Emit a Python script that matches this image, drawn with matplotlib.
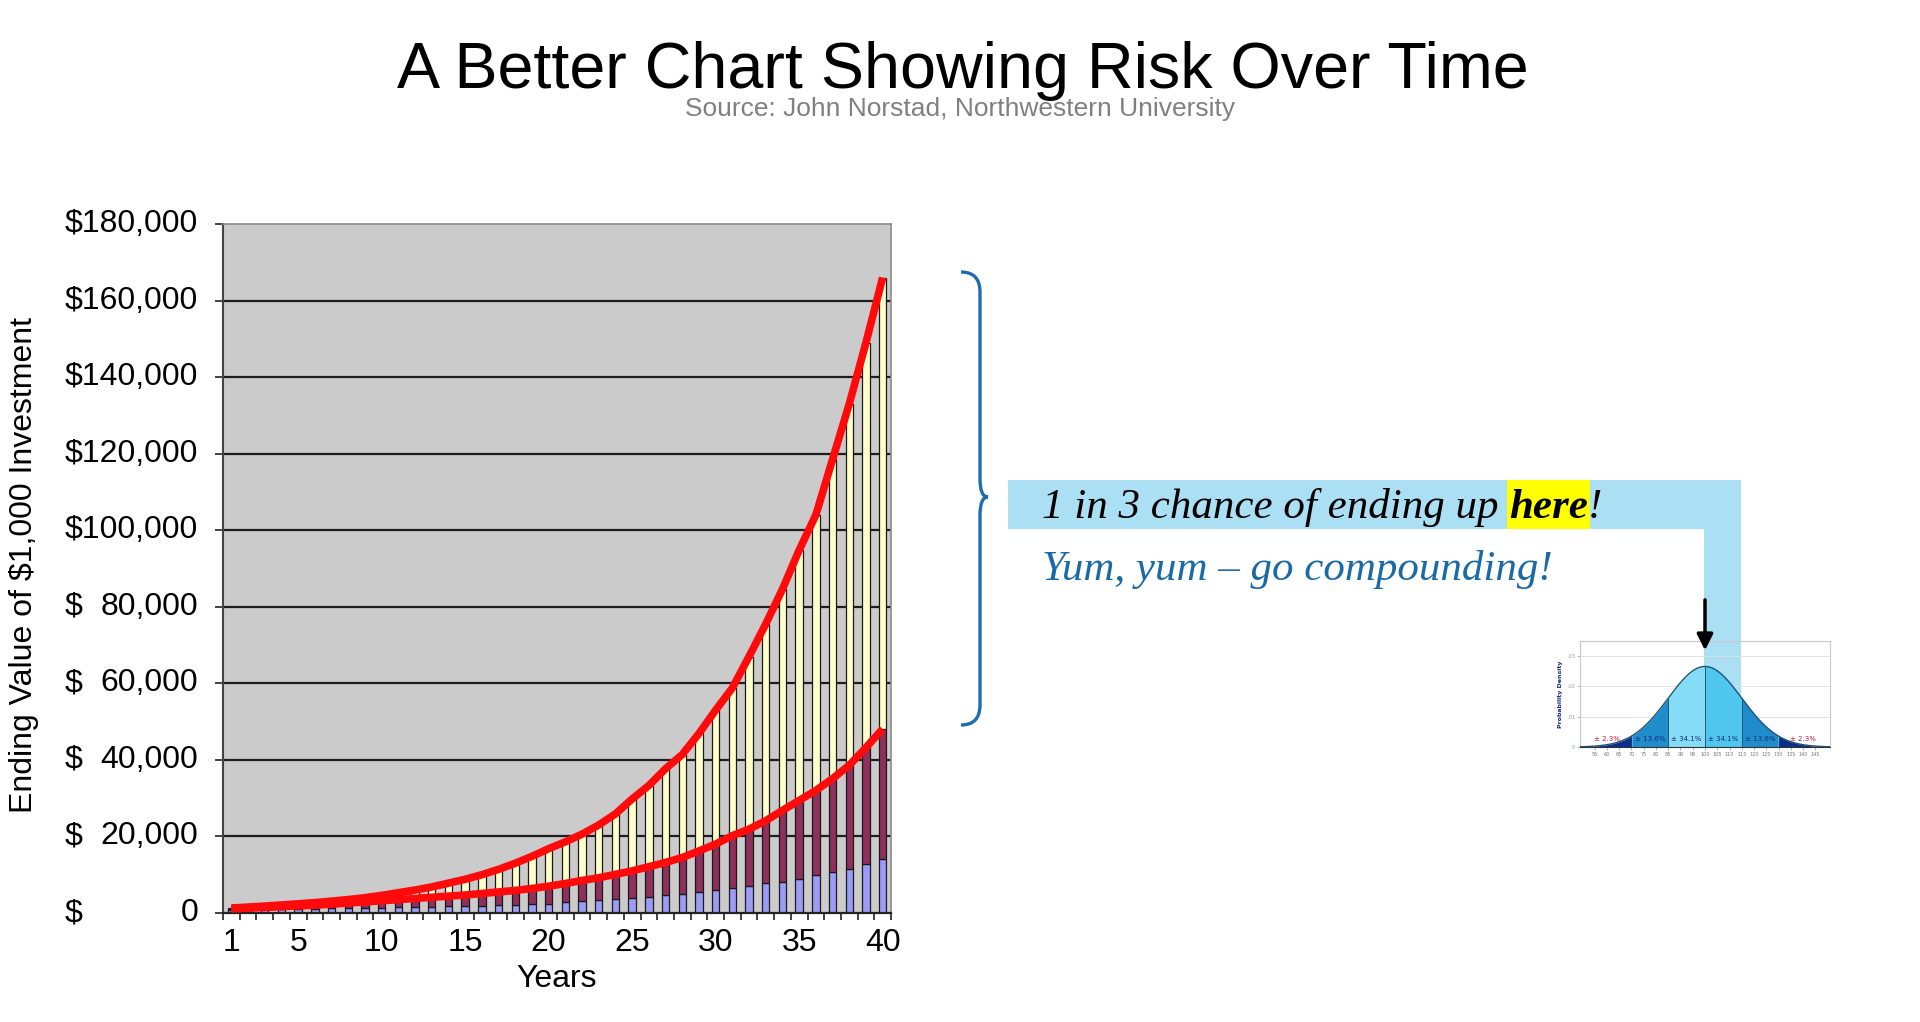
import matplotlib
matplotlib.use("Agg")
import matplotlib.pyplot as plt
import numpy as np
from matplotlib.patches import Rectangle, PathPatch
from matplotlib.path import Path

# ending value of $1,000 (in $ thousands)
years = np.arange(1, 41)
low = [0.90, 0.95, 1.00, 1.05, 1.10, 1.15, 1.20, 1.25, 1.30, 1.35,
       1.45, 1.50, 1.60, 1.70, 1.80, 1.90, 2.00, 2.10, 2.25, 2.40,
       2.80, 3.10, 3.50, 3.70, 3.90, 4.20, 4.60, 5.00, 5.40, 5.90,
       6.60, 7.00, 7.90, 8.20, 9.00, 9.90, 10.8, 11.6, 12.7, 14.0]
median = [1.10, 1.25, 1.45, 1.65, 1.85, 2.05, 2.30, 2.60, 2.90, 3.20,
          3.50, 3.80, 4.10, 4.40, 4.70, 5.10, 5.50, 5.90, 6.40, 7.00,
          7.70, 8.50, 9.20, 10.1, 11.0, 12.1, 13.2, 14.5, 16.2, 18.0,
          20.2, 21.9, 24.1, 26.8, 29.4, 32.0, 35.1, 38.6, 43.2, 48.1]
high = [1.30, 1.55, 1.80, 2.10, 2.40, 2.70, 3.10, 3.50, 4.00, 4.60,
        5.30, 6.00, 6.80, 7.80, 8.80, 10.0, 11.4, 13.0, 14.8, 16.8,
        18.6, 20.6, 23.0, 25.9, 29.8, 33.3, 37.7, 41.4, 46.9, 53.0,
        58.8, 67.0, 75.5, 84.6, 94.8, 104.0, 118.5, 133.0, 149.0, 166.0]
xtick_years = [1, 5, 10, 15, 20, 25, 30, 35, 40]
yticks = np.arange(0, 180001, 20000)

# inset normal curve
mu, sigma = 100, 15
band_edges = [49, 70, 85, 100, 115, 130, 151]
band_colors = ["#0c2d8c", "#1f8ccb", "#84dcf6", "#4ec6ee", "#1f8ccb", "#0c2d8c"]
band_labels = ["± 2.3%", "± 13.6%", "± 34.1%", "± 34.1%", "± 13.6%", "± 2.3%"]
band_label_x = [60, 77.5, 92.5, 107.5, 122.5, 140]
band_label_colors = ["#c4163c", "#1b2a7a", "#1b2a7a", "#1b2a7a", "#1b2a7a", "#c4163c"]

low_d = np.array(low) * 1000
med_d = np.array(median) * 1000
high_d = np.array(high) * 1000

SANS = ["Liberation Sans", "DejaVu Sans"]
NARROW = ["Liberation Sans Narrow", "Liberation Sans", "DejaVu Sans"]
SERIF = ["Liberation Serif", "DejaVu Serif"]

fig = plt.figure(figsize=(19.2, 10.22), dpi=100)
fig.patch.set_facecolor("white")

# pixel overlay for free-standing shapes and text (y grows downward)
ov = fig.add_axes([0, 0, 1, 1])
ov.set_xlim(0, 1920)
ov.set_ylim(1022, 0)
ov.axis("off")

ov.text(963, 88, "A Better Chart Showing Risk Over Time", ha="center", va="baseline",
        fontsize=46.5, family=SANS, color="black")
ov.text(960, 116, "Source: John Norstad, Northwestern University", ha="center", va="baseline",
        fontsize=19, family=NARROW, color="#808080")

# main chart
W, H = 1920, 1022
ax = fig.add_axes([223 / W, 1 - 913 / H, 668 / W, 689 / H])
ax.set_facecolor("#cbcbcb")
ax.set_axisbelow(True)
for y in yticks[1:-1]:
    ax.axhline(y, color="#1e1e1e", lw=1.6, zorder=0.5)

bw = 0.44
ax.bar(years, low_d, width=bw, color="#9c9cf8", edgecolor="#1a1a1a", lw=0.9, zorder=2)
ax.bar(years, med_d - low_d, bottom=low_d, width=bw, color="#8e2f5c", edgecolor="#1a1a1a", lw=0.9, zorder=2)
ax.bar(years, high_d - med_d, bottom=med_d, width=bw, color="#ffffcc", edgecolor="#1a1a1a", lw=0.9, zorder=2)
ax.plot(years, med_d, color="#ff0a0a", lw=5.5, solid_capstyle="butt", zorder=3)
ax.plot(years, high_d, color="#ff0a0a", lw=5.5, solid_capstyle="butt", zorder=3)

ax.set_xlim(0.5, 40.5)
ax.set_ylim(0, 180000)
ax.set_xticks(np.arange(0.5, 41, 1))
ax.set_xticklabels([])
ax.set_xticks(xtick_years, minor=True)
ax.set_xticklabels([str(v) for v in xtick_years], minor=True, fontsize=23, family=SANS)
ax.tick_params(axis="x", which="major", direction="out", length=5, width=1.2, color="#222")
ax.tick_params(axis="x", which="minor", length=0, pad=11)
ax.set_yticks(yticks)
ax.set_yticklabels([])
ax.tick_params(axis="y", direction="out", length=6, width=1.2, color="#222")
for sp in ("top", "right"):
    ax.spines[sp].set_color("#8a8a8a")
    ax.spines[sp].set_linewidth(1.2)
ax.spines["left"].set_color("#444")
ax.spines["left"].set_linewidth(1.5)
ax.spines["bottom"].set_color("#222")
ax.spines["bottom"].set_linewidth(1.6)

# accounting-style labels: "$" flush left, number flush right
ytr = ax.get_yaxis_transform()
for y in yticks:
    num = "{:,}".format(int(y)) if y else "0"
    if y >= 100000:
        ax.text(-0.0374, y, "$" + num, transform=ytr, ha="right", va="center", fontsize=23, family=SANS)
    else:
        ax.text(-0.2365, y, "$", transform=ytr, ha="left", va="center", fontsize=23, family=SANS)
        ax.text(-0.0374, y, num, transform=ytr, ha="right", va="center", fontsize=23, family=SANS)

ax.set_xlabel("Years", fontsize=23, family=SANS, labelpad=4)
ov.text(24, 565, "Ending Value of $1,000 Investment", rotation=90, ha="center", va="center",
        fontsize=23, family=NARROW)

# brace
bx, tip = 980, 988
brace = Path(
    [(961, 272), (bx, 272), (bx, 292), (bx, 479), (bx, 497), (tip, 497),
     (bx, 497), (bx, 515), (bx, 705), (bx, 725), (961, 725)],
    [Path.MOVETO, Path.CURVE3, Path.CURVE3, Path.LINETO, Path.CURVE3, Path.CURVE3,
     Path.CURVE3, Path.CURVE3, Path.LINETO, Path.CURVE3, Path.CURVE3],
)
ov.add_patch(PathPatch(brace, fill=False, edgecolor="#1f6db0", lw=2.4))

# light-blue callout bar and strip down to the curve
strip = "#aadff4"
ov.add_patch(Rectangle((1008, 480), 733, 49, color=strip, lw=0))
ov.add_patch(Rectangle((1704, 529), 37, 190, color=strip, lw=0))

fs = 31
r = fig.canvas.get_renderer()
t1 = ov.text(1042, 518, "1 in 3 chance of ending up", fontsize=fs, family=SERIF,
             style="italic", color="black", va="baseline")
x_end = t1.get_window_extent(r).x1
gap = fs * 100 / 72 * 0.25
t2 = ov.text(x_end + gap, 518, "here", fontsize=fs, family=SERIF, style="italic",
             weight="bold", color="black", va="baseline", zorder=4)
bb = t2.get_window_extent(r)
ov.add_patch(Rectangle((bb.x0 - 2, 480), bb.width + 4, 49, color="#ffff00", lw=0, zorder=3))
ov.text(bb.x1, 518, "!", fontsize=fs, family=SERIF, style="italic", color="black", va="baseline")
ov.text(1042, 580, "Yum, yum – go compounding!", fontsize=fs, family=SERIF, style="italic",
        color="#1b6aa8", va="baseline")

# inset bell curve
axb = fig.add_axes([1580 / W, 1 - 747 / H, 250 / W, 106 / H])
axb.set_facecolor("none")
xs = np.linspace(49, 151, 600)
pdf = np.exp(-0.5 * ((xs - mu) / sigma) ** 2) / (sigma * np.sqrt(2 * np.pi))
for a, b, c in zip(band_edges[:-1], band_edges[1:], band_colors):
    m = (xs >= a) & (xs <= b)
    axb.fill_between(xs[m], 0, pdf[m], color=c, lw=0, zorder=2)
for e in band_edges[1:-1]:
    pe = np.exp(-0.5 * ((e - mu) / sigma) ** 2) / (sigma * np.sqrt(2 * np.pi))
    axb.plot([e, e], [0, pe], color="#1a3d66", lw=0.6, zorder=3)
axb.plot(xs, pdf, color="#1d5575", lw=1.0, zorder=3)
for lx, lt, lc in zip(band_label_x, band_labels, band_label_colors):
    axb.text(lx, 0.0028, lt, ha="center", va="center", fontsize=5, color=lc, zorder=4)
axb.set_xlim(49, 151)
axb.set_ylim(0, 0.035)
axb.set_xticks(np.arange(55, 146, 5))
axb.set_xticklabels([str(v) for v in range(55, 146, 5)], fontsize=3.6, color="#777")
axb.set_yticks([0, 0.01, 0.02, 0.03])
axb.set_yticklabels(["0", ".01", ".02", ".03"], fontsize=3.6, color="#999")
axb.tick_params(length=2, width=0.5, color="#999", pad=1.5)
axb.grid(axis="y", color="#dddddd", lw=0.6)
axb.set_axisbelow(True)
for sp in axb.spines.values():
    sp.set_color("#c8c8c8")
    sp.set_linewidth(0.8)
axb.spines["bottom"].set_color("#333")
axb.set_ylabel("Probability Density", fontsize=4.5, color="#1b2a7a", weight="bold", labelpad=3)
axb.annotate("", xy=(100, 0.031), xytext=(100, 0.0495), annotation_clip=False,
             arrowprops=dict(arrowstyle="-|>", lw=2.5, color="black", mutation_scale=24))

fig.savefig("out.png", dpi=100, facecolor="white")
